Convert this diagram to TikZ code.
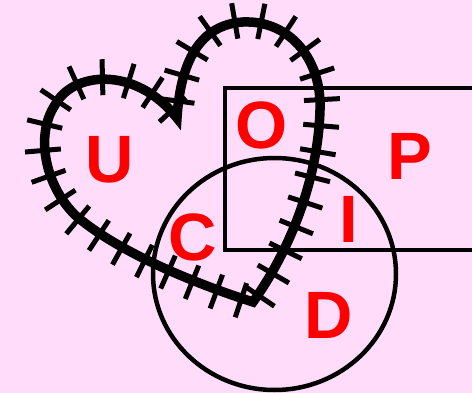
\documentclass[tikz,border=0pt]{standalone}
\usepackage{fontspec}
\setmainfont{Liberation Sans}
\usetikzlibrary{decorations.markings}
\definecolor{bgpink}{RGB}{255,221,250}
\definecolor{lettred}{RGB}{255,0,0}
\tikzset{
  letter/.style={text=lettred, font=\fontsize{67}{67}\selectfont\bfseries, inner sep=0pt, anchor=center},
  thinline/.style={draw=black, line width=4.5pt},
  heartline/.style={draw=black, line width=9.5pt, line join=miter, miter limit=10,
    postaction={decorate, decoration={markings,
      mark=between positions 12pt and 1 step 26pt with {\draw[line width=5pt] (0,-16pt) -- (0,20pt);}}}}
}
\begin{document}
\begin{tikzpicture}[x=1pt, y=-1pt]
  \useasboundingbox (0,0) rectangle (472,393);
  \fill[bgpink] (0,0) rectangle (472,393);
  \clip (0,0) rectangle (472,393);
  % rectangle P
  \draw[thinline] (480,88) -- (225,88) -- (225,250) -- (480,250);
  % circle D
  \draw[thinline] (274.5,274) ellipse [x radius=121.5, y radius=116];
  % heart U
  \draw[heartline] (253,302)
     .. controls (190,282) and (115,250) .. (75,215)
     .. controls (45,185) and (35,135) .. (55,105)
     .. controls (72,72) and (135,65) .. (177,118)
     .. controls (180,70) and (195,25) .. (243,22)
     .. controls (290,20) and (322,60) .. (320,110)
     .. controls (318,180) and (290,250) .. (253,302) -- cycle;
  % letters
  \node[letter] (U) at (110,160) {U};
  \node[letter] (O) at (262,125) {O};
  \node[letter] (P) at (410,156) {P};
  \node[letter] (C) at (193,237) {C};
  \node[letter] (I) at (349,219) {I};
  \node[letter] (D) at (329,315) {D};
\end{tikzpicture}
\end{document}
